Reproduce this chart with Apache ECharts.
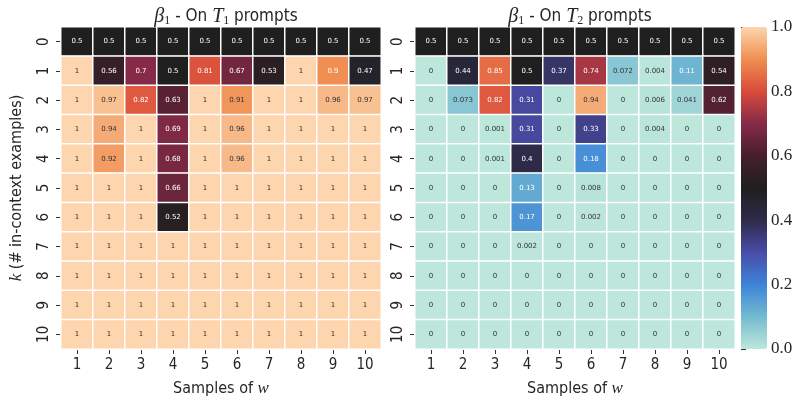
<!DOCTYPE html>
<html>
<head>
<meta charset="utf-8">
<script src="https://cdn.jsdelivr.net/npm/echarts@6/dist/echarts.min.js"></script>
<style>html,body{margin:0;padding:0;background:#fff}#c{width:804px;height:407px}</style>
</head>
<body>
<div id="c"></div>
<script>
const samples = ['1','2','3','4','5','6','7','8','9','10'];
const kValues = ['0','1','2','3','4','5','6','7','8','9','10'];
const colorbarTicks = [0, 0.2, 0.4, 0.6, 0.8, 1.0];

const t1Values = [
  [0.5,0.5,0.5,0.5,0.5,0.5,0.5,0.5,0.5,0.5],
  [1,0.56,0.7,0.5,0.81,0.67,0.53,1,0.9,0.47],
  [1,0.97,0.82,0.63,1,0.91,1,1,0.96,0.97],
  [1,0.94,1,0.69,1,0.96,1,1,1,1],
  [1,0.92,1,0.68,1,0.96,1,1,1,1],
  [1,1,1,0.66,1,1,1,1,1,1],
  [1,1,1,0.52,1,1,1,1,1,1],
  [1,1,1,1,1,1,1,1,1,1],
  [1,1,1,1,1,1,1,1,1,1],
  [1,1,1,1,1,1,1,1,1,1],
  [1,1,1,1,1,1,1,1,1,1]
];
const t2Values = [
  [0.5,0.5,0.5,0.5,0.5,0.5,0.5,0.5,0.5,0.5],
  [0,0.44,0.85,0.5,0.37,0.74,0.072,0.004,0.11,0.54],
  [0,0.073,0.82,0.31,0,0.94,0,0.006,0.041,0.62],
  [0,0,0.001,0.31,0,0.33,0,0.004,0,0],
  [0,0,0.001,0.4,0,0.18,0,0,0,0],
  [0,0,0,0.13,0,0.008,0,0,0,0],
  [0,0,0,0.17,0,0.002,0,0,0,0],
  [0,0,0,0.002,0,0,0,0,0,0],
  [0,0,0,0,0,0,0,0,0,0],
  [0,0,0,0,0,0,0,0,0,0],
  [0,0,0,0,0,0,0,0,0,0]
];

const icefire = ['#bde7db','#74bad0','#3c84d7','#4a4ca8','#2e2b4a','#1f1f1f','#461f2c','#862a47','#d94b3b','#f08f51','#fdd5ae'];

function toData(m){
  const out = [];
  m.forEach((row, r) => row.forEach((v, c) => out.push([c, r, v])));
  return out;
}

const tickFont = "'Liberation Sans Narrow','DejaVu Sans Condensed','Liberation Sans',sans-serif";
const txt = '#262626';

function xAx(gi){
  return {
    type:'category', gridIndex:gi, data:samples, position:'bottom',
    axisLine:{show:false},
    axisTick:{show:true, alignWithLabel:true, length:5, lineStyle:{color:'#333'}},
    axisLabel:{fontSize:15, color:txt, fontFamily:tickFont, margin:9},
    name:'Samples of {i|w}', nameLocation:'middle', nameGap:31,
    nameTextStyle:{fontSize:16, color:txt, fontFamily:tickFont,
      rich:{i:{fontSize:17, fontStyle:'italic', fontFamily:"'Liberation Serif',serif", color:txt}}},
    splitLine:{show:false}
  };
}
function yAx(gi, withName){
  const a = {
    type:'category', gridIndex:gi, data:kValues, inverse:true,
    axisLine:{show:false},
    axisTick:{show:true, alignWithLabel:true, length:5, lineStyle:{color:'#333'}},
    axisLabel:{fontSize:15, color:txt, fontFamily:tickFont, rotate:90, margin:9},
    splitLine:{show:false}
  };
  if(withName){
    a.name = '{i|k} (# in-context examples)';
    a.nameLocation = 'middle';
    a.nameGap = 36;
    a.nameRotate = 90;
    a.nameTextStyle = {fontSize:16, color:txt, fontFamily:tickFont,
      rich:{i:{fontSize:17, fontStyle:'italic', fontFamily:"'Liberation Serif',serif", color:txt}}};
  }
  return a;
}

const cellLabel = {
  show:true, fontSize:7, fontFamily:"'DejaVu Sans',sans-serif",
  formatter: p => {
    const v = p.value[2];
    const s = String(v);
    return (v > 0.1 && v < 0.905) ? '{w|' + s + '}' : '{d|' + s + '}';
  },
  rich:{
    w:{color:'#ffffff', fontSize:7, fontFamily:"'DejaVu Sans',sans-serif"},
    d:{color:'#333333', fontSize:7, fontFamily:"'DejaVu Sans',sans-serif"}
  }
};

const titleRich = {
  g:{fontSize:20, fontStyle:'italic', fontWeight:'normal', fontFamily:"'Liberation Serif',serif", color:txt},
  s:{fontSize:12, fontWeight:'normal', fontFamily:"'Liberation Serif',serif", color:txt, padding:[9,0,0,0]},
  n:{fontSize:17, fontWeight:'normal', fontFamily:tickFont, color:txt}
};

const chart = echarts.init(document.getElementById('c'), null, {renderer:'canvas'});
chart.setOption({
  animation:false,
  backgroundColor:'#fff',
  title:[
    {text:'{g|β}{s|1}{n| - On }{g|T}{s|1}{n| prompts}', left:221, top:1, textAlign:'center', textStyle:{fontWeight:'normal', rich:titleRich}},
    {text:'{g|β}{s|1}{n| - On }{g|T}{s|2}{n| prompts}', left:575, top:1, textAlign:'center', textStyle:{fontWeight:'normal', rich:titleRich}}
  ],
  grid:[
    {left:61, top:27, width:320, height:322},
    {left:415, top:27, width:320, height:322},
    {left:741, top:27, width:26, height:322}
  ],
  xAxis:[xAx(0), xAx(1), {type:'value', gridIndex:2, show:false, min:0, max:1}],
  yAxis:[yAx(0,true), yAx(1,false), {
    type:'value', gridIndex:2, position:'right', min:colorbarTicks[0], max:colorbarTicks[colorbarTicks.length-1], interval:0.2,
    axisLine:{show:false}, splitLine:{show:false},
    axisTick:{show:true, length:5, lineStyle:{color:'#333'}},
    axisLabel:{fontSize:17, color:txt, fontFamily:"'Liberation Serif',serif", margin:4, formatter:v => v.toFixed(1)}
  }],
  visualMap:{
    type:'continuous', min:0, max:1, seriesIndex:[0,1], calculable:false,
    orient:'vertical', left:741, top:27, itemWidth:26, itemHeight:322, padding:0,
    text:null, showLabel:false, hoverLink:false,
    inRange:{color:icefire}
  },
  series:[
    {type:'heatmap', xAxisIndex:0, yAxisIndex:0, data:toData(t1Values),
     itemStyle:{borderColor:'#fff', borderWidth:1.5}, label:cellLabel, emphasis:{disabled:true}},
    {type:'heatmap', xAxisIndex:1, yAxisIndex:1, data:toData(t2Values),
     itemStyle:{borderColor:'#fff', borderWidth:1.5}, label:cellLabel, emphasis:{disabled:true}}
  ]
});
</script>
</body>
</html>
